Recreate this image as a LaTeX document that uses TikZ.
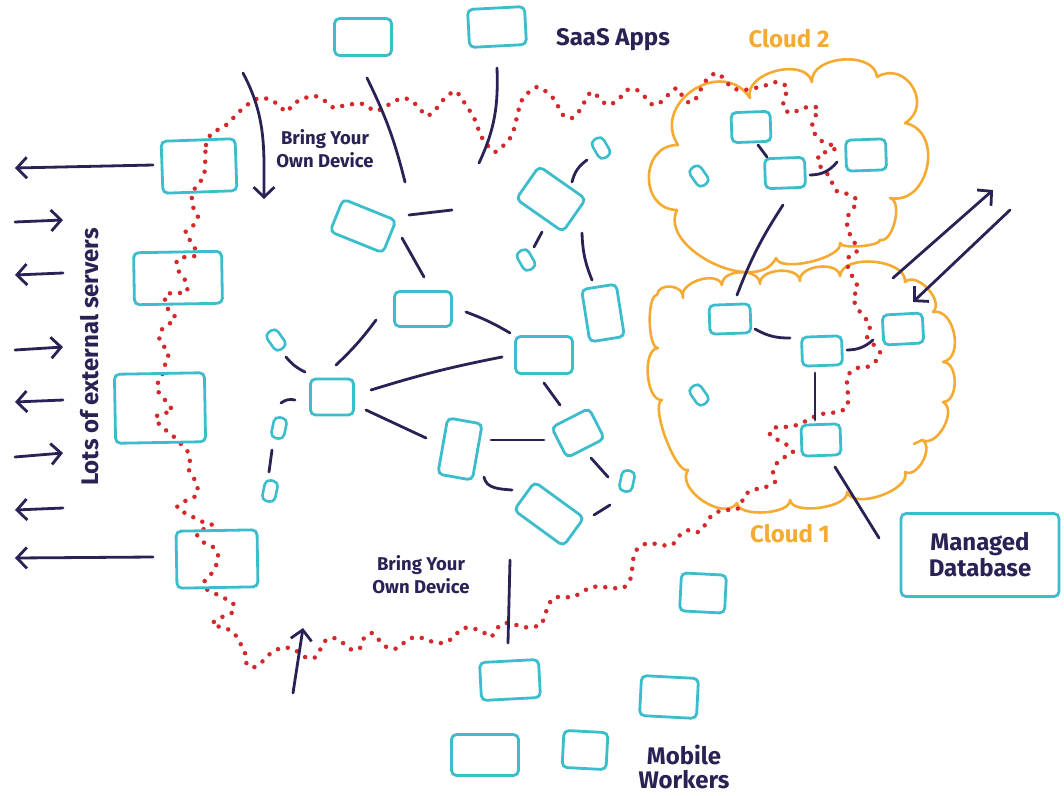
\documentclass[tikz,border=0pt]{standalone}
\usepackage{fontspec}
\setmainfont{Fira Sans}
\usetikzlibrary{arrows.meta,calc}
\definecolor{navy}{RGB}{42,33,84}
\definecolor{cyanb}{RGB}{60,189,204}
\definecolor{orng}{RGB}{245,170,50}
\definecolor{dotred}{RGB}{212,40,42}
\begin{document}
\begin{tikzpicture}[x=1pt,y=-1pt,
 bx/.style 2 args={draw=cyanb, line width=2.8pt, rounded corners=5pt, inner sep=0pt, minimum width=#1pt, minimum height=#2pt},
 pill/.style={draw=cyanb, line width=2.6pt, rounded corners=5pt, inner sep=0pt, minimum width=13pt, minimum height=21pt},
 ln/.style={draw=navy, line width=2.8pt, line cap=round},
 arr/.style={ln, -{Straight Barb[length=10pt,width=21pt]}},
 cloudln/.style={draw=orng, line width=2.6pt, line join=round, line cap=round},
 bmp/.style={bend left=90, looseness=#1},
 dots/.style={draw=dotred, line width=4.5pt, line cap=round, dash pattern=on 0pt off 10pt},
 big/.style={text=navy, font=\fontsize{24}{26}\selectfont\bfseries, align=center, inner sep=0pt},
 med/.style={text=navy, font=\fontsize{18.5}{23}\selectfont\bfseries, align=center, inner sep=0pt},
 orlbl/.style={big, text=orng}
]
\fill[white] (0,0) rectangle (1064,795);
\useasboundingbox (0,0) rectangle (1064,795);

% clouds
\draw[cloudln] (677,210) to[bmp=1.5] (678,145) to[bmp=1.5] (750,98) to[bmp=1.05] (812,82)
  to[bmp=1.05] (877,77) to[bmp=1.6] (905,123) to[bmp=1.35] (890,198) to[bmp=0.8] (880,240)
  to[bmp=0.4] (840,243) to[bmp=0.6] (776,258) to[bmp=1.0] (677,210);
\draw[cloudln] (657,295) to[bmp=1.3] (683,298) to[bmp=1.0] (722,285) to[bmp=1.1] (760,284)
  to[bmp=1.0] (800,281) to[bmp=1.0] (840,276) to[bmp=0.9] (905,282) to[bmp=1.0] (933,312)
  to[bmp=1.1] (943,362) to[bmp=1.0] (943,402) to[bmp=1.0] (922,440) to[bmp=1.0] (905,472)
  to[bmp=0.8] (847,492) to[bmp=0.7] (790,500) to[bmp=0.7] (737,503) to[bmp=1.0] (688,470)
  to[bmp=0.45] (662,400) to[bmp=0.8] (658,348) to[bmp=0.5] (657,295);
\draw[cloudln] (922,440) -- (914,444);

% dotted perimeter
\draw[dots] plot[smooth cycle, tension=0.5] coordinates {
(205,168) (206,145) (212,133) (225,126) (239,112) (247,105) (259,98) (271,100) (281,107) (286,112)
(295,103) (305,98) (315,96) (325,101) (334,108) (342,106) (353,104) (363,104) (375,111) (383,108)
(395,101) (403,98) (412,101) (420,109) (427,116) (436,109) (444,99) (455,91) (461,98) (468,108)
(475,120) (481,136) (488,146) (495,152) (503,146) (512,135) (517,117) (522,100) (537,87) (553,98)
(563,115) (572,118) (580,110) (591,92) (601,100) (608,105) (618,100) (627,90) (637,90) (646,98)
(653,105) (661,102) (668,95) (677,88) (683,97) (690,103) (697,97) (702,87) (708,78) (717,73)
(725,80) (732,88) (743,90) (755,88) (767,85) (777,82) (787,87) (785,97) (783,107) (790,113)
(799,110) (808,107) (818,108) (815,117) (812,127) (817,137) (825,143) (837,147) (828,152) (820,153)
(818,162) (823,170) (830,177) (835,190) (845,193) (857,200) (852,210) (847,218) (848,230) (853,240)
(858,250) (850,255) (847,263) (850,272) (858,288) (853,298) (860,312) (870,325) (867,337) (880,352)
(875,362) (867,367) (857,368) (848,375) (847,385) (848,395) (847,407) (838,412) (828,413) (818,415)
(808,420) (797,425) (785,427) (773,428) (770,435) (778,440) (787,445) (793,452) (783,458) (777,463)
(773,472) (775,482) (763,488) (752,490) (743,497) (742,505) (735,510) (723,510) (712,515) (707,522)
(699,532) (689,530) (680,535) (672,545) (661,545) (649,543) (639,547) (634,555) (632,570) (630,580)
(623,588) (613,588) (603,587) (592,587) (582,592) (573,597) (563,597) (553,598) (548,607) (544,617)
(541,625) (530,627) (522,627) (510,623) (500,625) (491,637) (483,632) (472,628) (464,628) (455,635)
(447,642) (436,643) (428,640) (417,637) (407,640) (398,648) (388,648) (379,640) (372,633) (364,638)
(360,648) (352,650) (343,643) (334,638) (326,640) (321,648) (316,657) (307,658) (300,653) (290,648)
(281,648) (271,653) (264,660) (255,667) (247,665) (245,653) (234,633) (224,628) (212,624) (222,617)
(233,612) (233,603) (224,598) (214,593) (205,588) (205,580) (212,573) (217,563) (218,555) (213,547)
(203,542) (197,533) (212,525) (203,522) (195,518) (185,513) (177,507) (187,500) (197,495) (197,485)
(192,475) (188,468) (190,460) (188,452) (180,443) (172,435) (162,427) (155,418) (163,413) (172,412)
(168,403) (160,395) (157,385) (162,377) (163,368) (168,360) (167,350) (160,342) (160,332) (167,325)
(175,320) (173,313) (167,308) (165,295) (175,293) (187,292) (185,280) (178,270) (177,260) (185,257)
(197,255) (192,243) (185,233) (192,227) (198,217) (193,207) (192,195) (197,185) (203,178)};

% left servers
\node[bx={74}{52}, rotate=2] (L1) at (199,166) {};
\node[bx={88}{52}, rotate=1] (L2) at (178,278) {};
\node[bx={90}{69}, rotate=1] (L3) at (160,408) {};
\node[bx={81}{57}, rotate=1] (L4) at (217,559) {};
% SaaS
\node[bx={57}{37}] (B1) at (363,37) {};
\node[bx={57}{38}, rotate=3] (B2) at (497,27) {};
% network
\node[bx={57}{35}, rotate=-22] (N1) at (363,226) {};
\node[bx={57}{35}] (N2) at (423,309) {};
\node[bx={43}{36}] (N3) at (332,397) {};
\node[bx={57}{37}] (N4) at (544,355) {};
\node[bx={35}{57}, rotate=-10] (N5) at (460,449) {};
\node[bx={42}{34}, rotate=27] (N6) at (578,433) {};
\node[bx={61}{35}, rotate=-36] (N7) at (549,514) {};
\node[bx={57}{40}, rotate=-35] (N8) at (551,199) {};
\node[bx={35}{53}, rotate=9] (N9) at (603,313) {};
\node[pill, rotate=30] (P1) at (601,148) {};
\node[pill, rotate=30] (P2) at (526,260) {};
\node[pill, rotate=35] (P3) at (276,340) {};
\node[pill, rotate=-12] (P4) at (279,428) {};
\node[pill, rotate=-12] (P5) at (270,491) {};
\node[pill, rotate=-12] (P6) at (627,481) {};
\node[pill, rotate=35] (P7) at (699,176) {};
\node[pill, rotate=35] (P8) at (699,395) {};
% clouds' boxes
\node[bx={39}{30}, rotate=2] (Q1) at (751,127) {};
\node[bx={40}{30}, rotate=2] (Q2) at (785,173) {};
\node[bx={40}{31}, rotate=2] (Q3) at (866,155) {};
\node[bx={41}{29}, rotate=2] (R1) at (730,319) {};
\node[bx={40}{29}, rotate=2] (R2) at (822,351) {};
\node[bx={40}{30}, rotate=3] (R3) at (903,329) {};
\node[bx={39}{31}, rotate=2] (R4) at (821,440) {};
% mobile workers
\node[bx={59}{38}, rotate=3] (M1) at (510,680) {};
\node[bx={67}{41}] (M2) at (485,755) {};
\node[bx={44}{37}, rotate=-3] (M3) at (585,750) {};
\node[bx={57}{40}, rotate=-3] (M4) at (669,697) {};
\node[bx={45}{38}, rotate=-3] (M5) at (703,593) {};
% database
\node[bx={158}{83}, big] (DB) at (980,555) {Managed\\Database};

% labels
\node[big] (SAAS) at (613,40) {SaaS Apps};
\node[orlbl] (C2L) at (789,39) {Cloud 2};
\node[orlbl] (C1L) at (790,534) {Cloud 1};
\node[big, font=\fontsize{24}{24.5}\selectfont\bfseries] (MW) at (684,767) {Mobile\\Workers};
\node[med] (T1) at (325,149) {Bring Your\\Own Device};
\node[med] (T2) at (421,575) {Bring Your\\Own Device};
\node[big, rotate=90] (LES) at (90,357) {Lots of external servers};

% connectors
\draw[ln] ($(B1)+(4,41)$) to[bend left=6] ($(N1)+(42,-44)$);
\draw[ln] ($(B2)+(0,41)$) to[out=-88,in=65] ($(N8)+(-72,-36)$);
\draw[ln] ($(N1)+(46,-11)$) -- ($(N8)+(-99,11)$);
\draw[ln] ($(N1)+(39,12)$) -- ($(N2)+(1,-32)$);
\draw[ln] ($(N2)+(-47,11)$) to[bend left=5] ($(N3)+(4,-32)$);
\draw[ln] ($(N2)+(43,3)$) to[bend left=5] ($(N4)+(-34,-22)$);
\draw[ln] ($(N3)+(39,-7)$) to[bend left=3] ($(N4)+(-42,2)$);
\draw[ln] ($(P3)+(10,17)$) to[bend right=12] ($(N3)+(-27,-25)$);
\draw[ln] ($(P4)+(2,-25)$) to[bend left=25] ($(N3)+(-37,3)$);
\draw[ln] ($(P4)+(-7,22)$) -- ($(P5)+(-1,-19)$);
\draw[ln] ($(N3)+(34,13)$) -- ($(N5)+(-34,-11)$);
\draw[ln] ($(N5)+(31,-9)$) -- ($(N6)+(-34,7)$);
\draw[ln] ($(N5)+(24,28)$) to[out=-80,in=175] ($(N7)+(-37,-24)$);
\draw[ln] ($(N6)+(13,25)$) -- ($(P6)+(-19,-4)$);
\draw[ln] ($(N7)+(45,1)$) -- ($(P6)+(-17,24)$);
\draw[ln] ($(N4)+(0,28)$) -- ($(N6)+(-18,-28)$);
\draw[ln] ($(N8)+(21,-17)$) to[bend left=20] ($(P1)+(-14,12)$);
\draw[ln] ($(N8)+(-9,33)$) -- ($(P2)+(8,-13)$);
\draw[ln] ($(N8)+(31,34)$) to[bend right=10] ($(N9)+(-11,-33)$);
\draw[ln] ($(Q1)+(7,18)$) -- ($(Q2)+(-18,-16)$);
\draw[ln] ($(Q2)+(25,2)$) to[bend right=25] ($(Q3)+(-29,7)$);
\draw[ln] ($(Q2)+(-2,32)$) to[bend right=6] ($(R1)+(7,-24)$);
\draw[ln] ($(R1)+(25,10)$) to[bend right=15] ($(R2)+(-32,-13)$);
\draw[ln] ($(R2)+(25,-1)$) to[bend right=20] ($(R3)+(-30,11)$);
\draw[ln] ($(R2)+(-7,22)$) -- ($(R4)+(-6,-20)$);
\draw[ln] ($(R4)+(14,27)$) -- ($(DB)+(-101,-17)$);
\draw[arr] ($(R3)+(-10,-51)$) -- ($(R3)+(90,-139)$);
\draw[arr] ($(R3)+(107,-119)$) -- ($(R3)+(10,-27)$);
\draw[ln] ($(N7)+(-39,46)$) -- ($(M1)+(-2,-37)$);
\draw[arr] ($(L1)+(-46,-1)$) -- ($(L1)+(-184,2)$);
\draw[arr] ($(L4)+(-64,-2)$) -- ($(L4)+(-202,-1)$);
\draw[arr] ($(LES)+(-75,-135)$) -- ($(LES)+(-27,-137)$);
\draw[arr] ($(LES)+(-27,-84)$) -- ($(LES)+(-75,-82)$);
\draw[arr] ($(LES)+(-75,-7)$) -- ($(LES)+(-27,-10)$);
\draw[arr] ($(LES)+(-27,43)$) -- ($(LES)+(-75,45)$);
\draw[arr] ($(LES)+(-75,100)$) -- ($(LES)+(-27,96)$);
\draw[arr] ($(LES)+(-27,151)$) -- ($(LES)+(-75,153)$);
\draw[arr] ($(T1)+(-82,-76)$) to[out=-62,in=90] ($(T1)+(-61,50)$);
\draw[arr] ($(T2)+(-128,118)$) -- ($(T2)+(-118,53)$);
\end{tikzpicture}
\end{document}
